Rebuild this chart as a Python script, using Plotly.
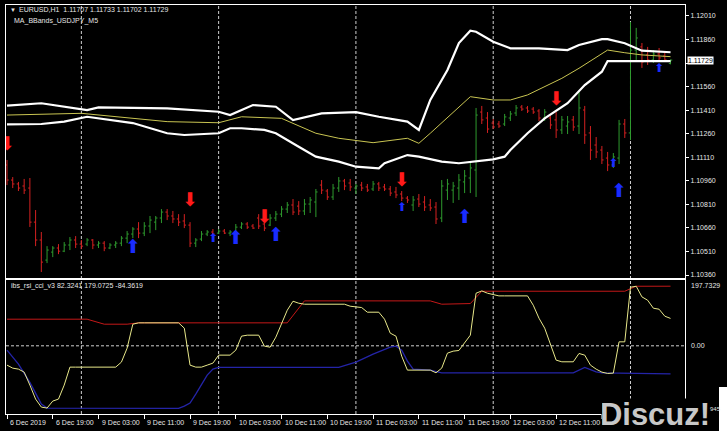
import plotly.graph_objects as go

# ---------------- data: EURUSD H1 bars (index = bar number) ----------------
bar_index = list(range(117))
opens = [1.11061, 1.10965, 1.10940, 1.10927, 1.10914, 1.10697, 1.10583, 1.10455, 1.10506, 1.10532,
         1.10512, 1.10551, 1.10583, 1.10557, 1.10557, 1.10583, 1.10551, 1.10563, 1.10532, 1.10551,
         1.10563, 1.10595, 1.10621, 1.10653, 1.10627, 1.10672, 1.10697, 1.10723, 1.10761, 1.10736,
         1.10717, 1.10704, 1.10678, 1.10563, 1.10589, 1.10621, 1.10634, 1.10627, 1.10640, 1.10627,
         1.10634, 1.10665, 1.10685, 1.10672, 1.10723, 1.10685, 1.10678, 1.10723, 1.10748, 1.10780,
         1.10806, 1.10799, 1.10768, 1.10812, 1.10825, 1.10933, 1.10895, 1.10857, 1.10914, 1.10959,
         1.10946, 1.10914, 1.10933, 1.10921, 1.10908, 1.10940, 1.10921, 1.10908, 1.10889, 1.10876,
         1.10850, 1.10806, 1.10844, 1.10825, 1.10806, 1.10793, 1.10723, 1.10901, 1.10901, 1.10914,
         1.10953, 1.10978, 1.11029, 1.11398, 1.11360, 1.11328, 1.11322, 1.11322, 1.11360, 1.11392,
         1.11430, 1.11424, 1.11417, 1.11405, 1.11360, 1.11360, 1.11348, 1.11284, 1.11309, 1.11348,
         1.11309, 1.11411, 1.11265, 1.11188, 1.11156, 1.11105, 1.11061, 1.11105, 1.11322, 1.11265,
         1.11793, 1.11813, 1.11762, 1.11730, 1.11768, 1.11755, 1.11707]
highs = [1.11093, 1.10984, 1.10953, 1.10972, 1.10978, 1.10774, 1.10634, 1.10544, 1.10544, 1.10557,
         1.10570, 1.10602, 1.10608, 1.10583, 1.10595, 1.10589, 1.10576, 1.10576, 1.10563, 1.10576,
         1.10608, 1.10640, 1.10665, 1.10697, 1.10697, 1.10736, 1.10736, 1.10780, 1.10780, 1.10768,
         1.10748, 1.10748, 1.10697, 1.10595, 1.10640, 1.10646, 1.10653, 1.10653, 1.10653, 1.10646,
         1.10685, 1.10697, 1.10697, 1.10685, 1.10748, 1.10717, 1.10748, 1.10768, 1.10799, 1.10825,
         1.10844, 1.10831, 1.10844, 1.10857, 1.10908, 1.10965, 1.10908, 1.10940, 1.10984, 1.10972,
         1.10972, 1.10940, 1.10953, 1.10940, 1.10959, 1.10953, 1.10940, 1.10927, 1.10921, 1.10895,
         1.10863, 1.10863, 1.10876, 1.10863, 1.10844, 1.10825, 1.10965, 1.10972, 1.10953, 1.11003,
         1.11029, 1.11080, 1.11424, 1.11437, 1.11398, 1.11354, 1.11341, 1.11386, 1.11405, 1.11443,
         1.11443, 1.11437, 1.11430, 1.11417, 1.11417, 1.11373, 1.11398, 1.11373, 1.11373, 1.11373,
         1.11526, 1.11437, 1.11309, 1.11239, 1.11182, 1.11144, 1.11137, 1.11348, 1.11354, 1.11972,
         1.11934, 1.11838, 1.11813, 1.11793, 1.11806, 1.11781, 1.11733]
lows = [1.10933, 1.10914, 1.10895, 1.10876, 1.10666, 1.10544, 1.10379, 1.10436, 1.10474, 1.10493,
        1.10506, 1.10519, 1.10532, 1.10525, 1.10544, 1.10525, 1.10532, 1.10512, 1.10525, 1.10532,
        1.10544, 1.10563, 1.10595, 1.10595, 1.10608, 1.10627, 1.10646, 1.10691, 1.10710, 1.10691,
        1.10672, 1.10659, 1.10538, 1.10538, 1.10576, 1.10608, 1.10608, 1.10621, 1.10621, 1.10608,
        1.10621, 1.10653, 1.10653, 1.10653, 1.10653, 1.10640, 1.10672, 1.10704, 1.10729, 1.10755,
        1.10742, 1.10742, 1.10742, 1.10755, 1.10729, 1.10876, 1.10838, 1.10838, 1.10889, 1.10901,
        1.10895, 1.10876, 1.10895, 1.10889, 1.10895, 1.10895, 1.10895, 1.10863, 1.10850, 1.10831,
        1.10819, 1.10768, 1.10793, 1.10768, 1.10768, 1.10685, 1.10697, 1.10838, 1.10819, 1.10838,
        1.10882, 1.10882, 1.10857, 1.11322, 1.11265, 1.11290, 1.11297, 1.11309, 1.11341, 1.11373,
        1.11405, 1.11392, 1.11386, 1.11341, 1.11341, 1.11290, 1.11233, 1.11258, 1.11258, 1.11278,
        1.11258, 1.11195, 1.11093, 1.11105, 1.11067, 1.11022, 1.11042, 1.11067, 1.11233, 1.11220,
        1.11730, 1.11679, 1.11698, 1.11711, 1.11724, 1.11717, 1.11702]
closes = [1.10965, 1.10940, 1.10914, 1.10901, 1.10697, 1.10583, 1.10442, 1.10519, 1.10532, 1.10512,
          1.10551, 1.10583, 1.10557, 1.10544, 1.10583, 1.10551, 1.10563, 1.10532, 1.10551, 1.10563,
          1.10595, 1.10621, 1.10653, 1.10627, 1.10672, 1.10710, 1.10723, 1.10761, 1.10736, 1.10717,
          1.10697, 1.10678, 1.10563, 1.10583, 1.10621, 1.10634, 1.10621, 1.10640, 1.10627, 1.10634,
          1.10665, 1.10685, 1.10665, 1.10659, 1.10672, 1.10659, 1.10723, 1.10748, 1.10780, 1.10806,
          1.10761, 1.10768, 1.10812, 1.10838, 1.10889, 1.10901, 1.10857, 1.10914, 1.10959, 1.10927,
          1.10921, 1.10927, 1.10914, 1.10901, 1.10940, 1.10914, 1.10908, 1.10882, 1.10870, 1.10850,
          1.10838, 1.10838, 1.10812, 1.10793, 1.10787, 1.10717, 1.10927, 1.10940, 1.10927, 1.10965,
          1.10991, 1.11042, 1.11379, 1.11348, 1.11290, 1.11303, 1.11309, 1.11367, 1.11386, 1.11424,
          1.11417, 1.11405, 1.11398, 1.11360, 1.11398, 1.11316, 1.11284, 1.11348, 1.11335, 1.11303,
          1.11424, 1.11252, 1.11156, 1.11144, 1.11093, 1.11061, 1.11112, 1.11322, 1.11265, 1.11793,
          1.11870, 1.11717, 1.11730, 1.11768, 1.11743, 1.11730, 1.11729]

# MA_BBands indicator lines (bar index, price)
upper_idx = [0, 6, 14, 16, 28, 37, 39, 43, 47, 50, 55, 61, 65, 70, 72, 74, 77, 79, 81, 82, 85, 88, 93, 98, 100, 104, 105, 108, 111, 116]
upper_val = [1.11439, 1.11454, 1.11411, 1.11428, 1.11422, 1.11400, 1.11379, 1.11443, 1.11432, 1.11347,
             1.11390, 1.11397, 1.11368, 1.11337, 1.11284, 1.11475, 1.11666, 1.11838, 1.11916, 1.11910,
             1.11846, 1.11804, 1.11804, 1.11793, 1.11825, 1.11863, 1.11862, 1.11836, 1.11789, 1.11779]
lower_idx = [0, 6, 10, 14, 22, 28, 31, 37, 39, 41, 45, 47, 51, 54, 58, 61, 65, 66, 70, 72, 76, 79, 85, 87, 88, 91, 94, 98, 101, 104, 105, 116]
lower_val = [1.11320, 1.11322, 1.11337, 1.11368, 1.11328, 1.11263, 1.11252, 1.11263, 1.11295, 1.11295,
             1.11284, 1.11263, 1.11177, 1.11114, 1.11082, 1.11050, 1.11040, 1.11072, 1.11124, 1.11114,
             1.11082, 1.11072, 1.11097, 1.11114, 1.11156, 1.11263, 1.11358, 1.11454, 1.11570, 1.11655,
             1.11723, 1.11723]
mid_idx = [0, 13, 28, 37, 41, 48, 50, 54, 58, 64, 70, 72, 74, 79, 81, 85, 88, 91, 97, 100, 104, 105, 108, 111, 116]
mid_val = [1.11379, 1.11390, 1.11337, 1.11330, 1.11368, 1.11358, 1.11326, 1.11263, 1.11231, 1.11203,
           1.11231, 1.11199, 1.11263, 1.11432, 1.11496, 1.11475, 1.11475, 1.11507, 1.11613, 1.11677,
           1.11772, 1.11793, 1.11776, 1.11762, 1.11751]

# signal arrows
sell_idx = [0, 32, 45, 69, 96]
sell_price = [1.11188, 1.10831, 1.10723, 1.10959, 1.11475]
buy_big_idx = [22, 40, 47, 80, 107]
buy_big_price = [1.10532, 1.10589, 1.10608, 1.10723, 1.10889]
buy_small_idx = [36, 69, 106, 114]
buy_small_price = [1.10589, 1.10787, 1.11067, 1.11673]

# ibs_rsi_cci_v3 sub-window
red_idx = [0, 14, 17, 21, 23, 49, 52, 74, 76, 81, 83, 108, 110, 116]
red_val = [80, 80, 65, 65, 69, 69, 135, 135, 125, 127, 164, 164, 179, 179.0725]
yellow_val = [-58, -67, -70, -79, -118, -160, -184, -187, -166, -160,
              -118, -64, -64, -64, -64, -64, -64, -64, -64, -64,
              -49, -7, 65, 69, 69, 69, 69, 69, 69, 69,
              69, 53, -58, -64, -64, -58, -52, -28, -28, -28,
              -13, 29, 32, 32, 32, -1, -4, 26, 68, 107,
              134, 128, 125, 125, 125, 125, 125, 125, 125, 125,
              119, 116, 115, 101, 101, 101, 80, 38, 29, -31,
              -73, -73, -73, -73, -73, -81, -67, -22, -16, -14,
              8, 32, 158, 165, 158, 155, 150, 150, 150, 150,
              150, 150, 122, 83, 53, 8, -43, -48, -48, -48,
              -23, -28, -58, -70, -79, -83, -82, 12, 12, 176,
              179, 147, 137, 113, 110, 89, 82.3241]
blue_idx = [0, 2, 4, 6, 7, 30, 31, 32, 33, 34, 35, 36, 37, 58, 61, 64, 67, 68, 69, 70, 71, 74, 76, 99, 101, 103, 104, 116]
blue_val = [-13, -55, -110, -175, -187, -188, -181, -172, -145, -118, -88, -70, -65, -65, -49, -25, -4, -1,
            -13, -46, -70, -73, -81, -81, -65, -78, -81, -84.3619]

# axes
price_ticks = [1.12010, 1.11860, 1.11710, 1.11560, 1.11410, 1.11260, 1.11110, 1.10960, 1.10810, 1.10660, 1.10510, 1.10360]
day_start_idx = [13, 37, 61, 85, 109]
time_label_idx = [0, 8, 16, 24, 32, 40, 48, 56, 64, 72, 80, 88, 96, 104, 112]
time_labels = ["6 Dec 2019", "6 Dec 19:00", "9 Dec 03:00", "9 Dec 11:00", "9 Dec 19:00",
               "10 Dec 03:00", "10 Dec 11:00", "10 Dec 19:00", "11 Dec 03:00", "11 Dec 11:00",
               "11 Dec 19:00", "12 Dec 03:00", "12 Dec 11:00", "12 Dec 19:00", "13 Dec 03:00"]
sub_max = 197.7329
last_price = 1.11729

# ---------------- figure ----------------
W, H = 727, 438
def px(x):
    return x / W
def py(y):
    return 1 - y / H

FONT = "Liberation Sans"
TXT = "#e6e6e6"

fig = go.Figure()

fig.add_trace(go.Ohlc(
    x=bar_index, open=opens, high=highs, low=lows, close=closes,
    increasing=dict(line=dict(color="#2e9a2e", width=1)),
    decreasing=dict(line=dict(color="#d42020", width=1)),
    tickwidth=0.3, xaxis="x", yaxis="y", hoverinfo="skip", showlegend=False))

fig.add_trace(go.Scatter(x=mid_idx, y=mid_val, mode="lines",
                         line=dict(color="#c9c552", width=1), xaxis="x", yaxis="y", showlegend=False))
fig.add_trace(go.Scatter(x=upper_idx, y=upper_val, mode="lines",
                         line=dict(color="#ffffff", width=2.2), xaxis="x", yaxis="y", showlegend=False))
fig.add_trace(go.Scatter(x=lower_idx, y=lower_val, mode="lines",
                         line=dict(color="#ffffff", width=2.2), xaxis="x", yaxis="y", showlegend=False))

fig.add_trace(go.Scatter(x=sell_idx, y=sell_price, mode="text", text=["\u2b07"] * len(sell_idx),
                         textfont=dict(color="#ff1a1a", size=19, family="DejaVu Sans"),
                         xaxis="x", yaxis="y", showlegend=False))
fig.add_trace(go.Scatter(x=buy_big_idx, y=buy_big_price, mode="text", text=["\u2b06"] * len(buy_big_idx),
                         textfont=dict(color="#1a2cff", size=19, family="DejaVu Sans"),
                         xaxis="x", yaxis="y", showlegend=False))
fig.add_trace(go.Scatter(x=buy_small_idx, y=buy_small_price, mode="text", text=["\u2b06"] * len(buy_small_idx),
                         textfont=dict(color="#1a2cff", size=12, family="DejaVu Sans"),
                         xaxis="x", yaxis="y", showlegend=False))

# sub window
fig.add_trace(go.Scatter(x=red_idx, y=red_val, mode="lines",
                         line=dict(color="#c41818", width=1), xaxis="x2", yaxis="y2", showlegend=False))
fig.add_trace(go.Scatter(x=blue_idx, y=blue_val, mode="lines",
                         line=dict(color="#2424a8", width=1.3), xaxis="x2", yaxis="y2", showlegend=False))
fig.add_trace(go.Scatter(x=bar_index, y=yellow_val, mode="lines",
                         line=dict(color="#e8e88a", width=1), xaxis="x2", yaxis="y2", showlegend=False))

x_dom = [px(6), px(685)]
main_dom = [py(278), py(5)]
sub_dom = [py(414), py(280)]
x_range = [-0.175, 118.53]

axis_common = dict(showgrid=False, zeroline=False, showline=True, mirror=True,
                   linecolor="#ffffff", linewidth=1)

# the tick under the current-price box is hidden by it
price_ticktext = ["" if abs(v - last_price) < 0.0003 else f"{v:.5f}" for v in price_ticks]

fig.update_layout(
    width=W, height=H, margin=dict(l=0, r=0, t=0, b=0),
    paper_bgcolor="#000000", plot_bgcolor="#000000",
    showlegend=False,
    xaxis=dict(domain=x_dom, range=x_range, anchor="y", showticklabels=False, ticks="",
               rangeslider=dict(visible=False), **axis_common),
    xaxis2=dict(domain=x_dom, range=x_range, anchor="y2", matches="x",
                tickvals=time_label_idx, ticks="outside", ticklen=4, tickcolor="#ffffff",
                showticklabels=False, **axis_common),
    yaxis=dict(domain=main_dom, range=[1.10341, 1.12080], anchor="x", side="right",
               tickvals=price_ticks, ticktext=price_ticktext,
               ticks="outside", ticklen=3, tickcolor="#ffffff",
               tickfont=dict(family=FONT, size=7, color=TXT), **axis_common),
    yaxis2=dict(domain=sub_dom, range=[-204.8, sub_max], anchor="x2", side="right",
                showticklabels=False, ticks="", **axis_common),
)

shapes = []
for d in day_start_idx:
    shapes.append(dict(type="line", xref="x", yref="paper", x0=d, x1=d,
                       y0=sub_dom[0], y1=main_dom[1],
                       line=dict(color="#cfcfcf", width=1, dash="3px,2px"), layer="below"))
shapes.append(dict(type="line", xref="paper", yref="y2", x0=x_dom[0], x1=x_dom[1], y0=0, y1=0,
                   line=dict(color="#cfcfcf", width=1, dash="3px,2px"), layer="below"))
# white page margin at the bottom / bottom-right of the screenshot
shapes.append(dict(type="rect", xref="paper", yref="paper", x0=0, x1=1, y0=0, y1=py(431),
                   fillcolor="#ffffff", line=dict(width=0), layer="above"))
shapes.append(dict(type="rect", xref="paper", yref="paper", x0=px(719), x1=1, y0=0, y1=py(387),
                   fillcolor="#ffffff", line=dict(width=0), layer="above"))
fig.update_layout(shapes=shapes)

ann = []
def text(x, y, s, size=7, color=TXT, xanchor="left", yanchor="middle", **kw):
    ann.append(dict(x=x, y=y, xref=kw.pop("xref", "paper"), yref=kw.pop("yref", "paper"),
                    text=s, showarrow=False, xanchor=xanchor, yanchor=yanchor,
                    font=dict(family=kw.pop("family", FONT), size=size, color=color), **kw))

text(px(8), py(10), "\u25bc", size=6)
text(px(17), py(10), f"EURUSD,H1  {opens[-1]:.5f} {highs[-1]:.5f} {lows[-1]:.5f} {closes[-1]:.5f}")
text(px(12), py(21), "MA_BBands_USDJPY_M5")
text(px(9), py(286), f"ibs_rsi_cci_v3 {yellow_val[-1]:.4f} {red_val[-1]:.4f} {blue_val[-1]:.4f}")

for i, lab in zip(time_label_idx, time_labels):
    text(i, py(422), lab, xref="x2", xshift=1)

text(px(687), last_price, f"{last_price:.5f}", color="#000000", yref="y",
     bgcolor="#ffffff", borderpad=0)
text(px(689), sub_max, f"{sub_max:.4f}", yref="y2", yanchor="top")
text(px(689), 0, "0.00", yref="y2")

text(px(655), py(414), "<b>Discuz!</b>", size=31, color="#c8c8c8", xanchor="center",
     bgcolor="#000000", borderpad=0, width=106, height=30)
text(px(708), py(409), "945", size=6, color="#e0e0e0")

fig.update_layout(annotations=ann)

fig.write_html("out.html", config={"displayModeBar": False},
               post_script="document.body.style.margin='0';document.body.style.background='#000';"
                           "document.body.style.overflow='hidden';")
